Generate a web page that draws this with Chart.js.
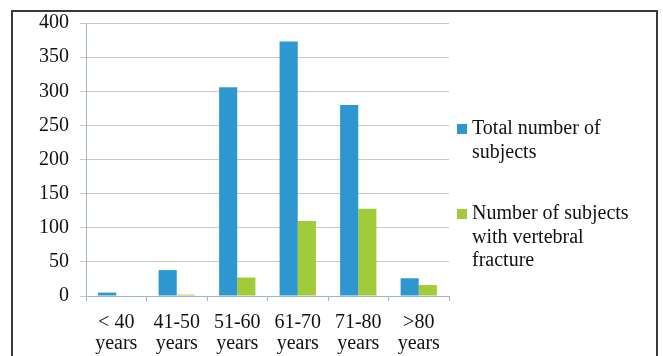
<!DOCTYPE html>
<html lang="en">
<head>
<meta charset="UTF-8">
<style>
    html, body {
        margin: 0;
        padding: 0;
        background: #ffffff;
    }
    .frame {
        position: absolute;
        left: 11px;
        top: 10px;
        width: 643px;
        height: 360px;
        border: 2px solid #3a3a3a;
    }
    .wrap {
        position: absolute;
        left: 0;
        top: 0;
        width: 663px;
        height: 356px;
    }
    .legend {
        position: absolute;
        left: 457px;
        font-family: "Liberation Serif", "Times New Roman", serif;
        font-size: 20px;
        line-height: 23.5px;
        color: #111;
    }
    .legend .box {
        position: absolute;
        left: 0;
        width: 10px;
        height: 10px;
    }
    .legend .txt {
        margin-left: 15px;
        white-space: nowrap;
    }
</style>
</head>
<body>
<div class="frame"></div>
<div class="wrap"><canvas id="ageChart" width="663" height="356"></canvas></div>
<div id="legend"></div>

<script src="https://cdn.jsdelivr.net/npm/chart.js"></script>
<script>
    // age groups and counts
    const ageGroups = [['< 40', 'years'], ['41-50', 'years'], ['51-60', 'years'], ['61-70', 'years'], ['71-80', 'years'], ['>80', 'years']];
    const totalSubjects = [5, 38, 306, 373, 280, 26];
    const fractureSubjects = [0, 2, 27, 110, 128, 16];

    const seriesNames = [['Total number of', 'subjects'], ['Number of subjects', 'with vertebral', 'fracture']];
    const seriesColors = ['#2f97d0', '#a2cb3a'];

    const serif = '"Liberation Serif", "Times New Roman", serif';

    const ctx = document.getElementById('ageChart').getContext('2d');
    const ageChart = new Chart(ctx, {
        type: 'bar',
        data: {
            labels: ageGroups,
            datasets: [
                {
                    label: seriesNames[0].join(' '),
                    data: totalSubjects,
                    backgroundColor: seriesColors[0],
                    categoryPercentage: 0.6,
                    barPercentage: 1.0
                },
                {
                    label: seriesNames[1].join(' '),
                    data: fractureSubjects,
                    backgroundColor: seriesColors[1],
                    categoryPercentage: 0.6,
                    barPercentage: 1.0
                }
            ]
        },
        options: {
            responsive: false,
            animation: false,
            layout: {
                padding: { top: 23, right: 214, left: 0, bottom: 0 }
            },
            scales: {
                x: {
                    grid: {
                        drawOnChartArea: false,
                        drawTicks: true,
                        tickLength: 5,
                        color: '#9fb8c8'
                    },
                    border: { color: '#9fb8c8', width: 1 },
                    ticks: {
                        color: '#111',
                        padding: 11,
                        maxRotation: 0,
                        autoSkip: false,
                        font: { family: serif, size: 20, lineHeight: 1.05 }
                    },
                    afterFit: (scale) => { scale.height = 60; }
                },
                y: {
                    min: 0,
                    max: 400,
                    grid: {
                        color: '#cfc6c6',
                        tickLength: 6
                    },
                    border: { color: '#9fb8c8', width: 1 },
                    ticks: {
                        stepSize: 50,
                        color: '#111',
                        padding: 11,
                        font: { family: serif, size: 20 }
                    },
                    afterFit: (scale) => { scale.width = 86; }
                }
            },
            plugins: {
                legend: { display: false },
                tooltip: { enabled: false }
            }
        }
    });

    // legend on the right, wrapped onto several lines
    const legendTops = [116, 201];
    const legendEl = document.getElementById('legend');
    ageChart.data.datasets.forEach((ds, i) => {
        const item = document.createElement('div');
        item.className = 'legend';
        item.style.top = legendTops[i] + 'px';
        const box = document.createElement('div');
        box.className = 'box';
        box.style.top = '8px';
        box.style.background = ds.backgroundColor;
        const txt = document.createElement('div');
        txt.className = 'txt';
        txt.innerHTML = seriesNames[i].join('<br>');
        item.appendChild(box);
        item.appendChild(txt);
        legendEl.appendChild(item);
    });
</script>
</body>
</html>
